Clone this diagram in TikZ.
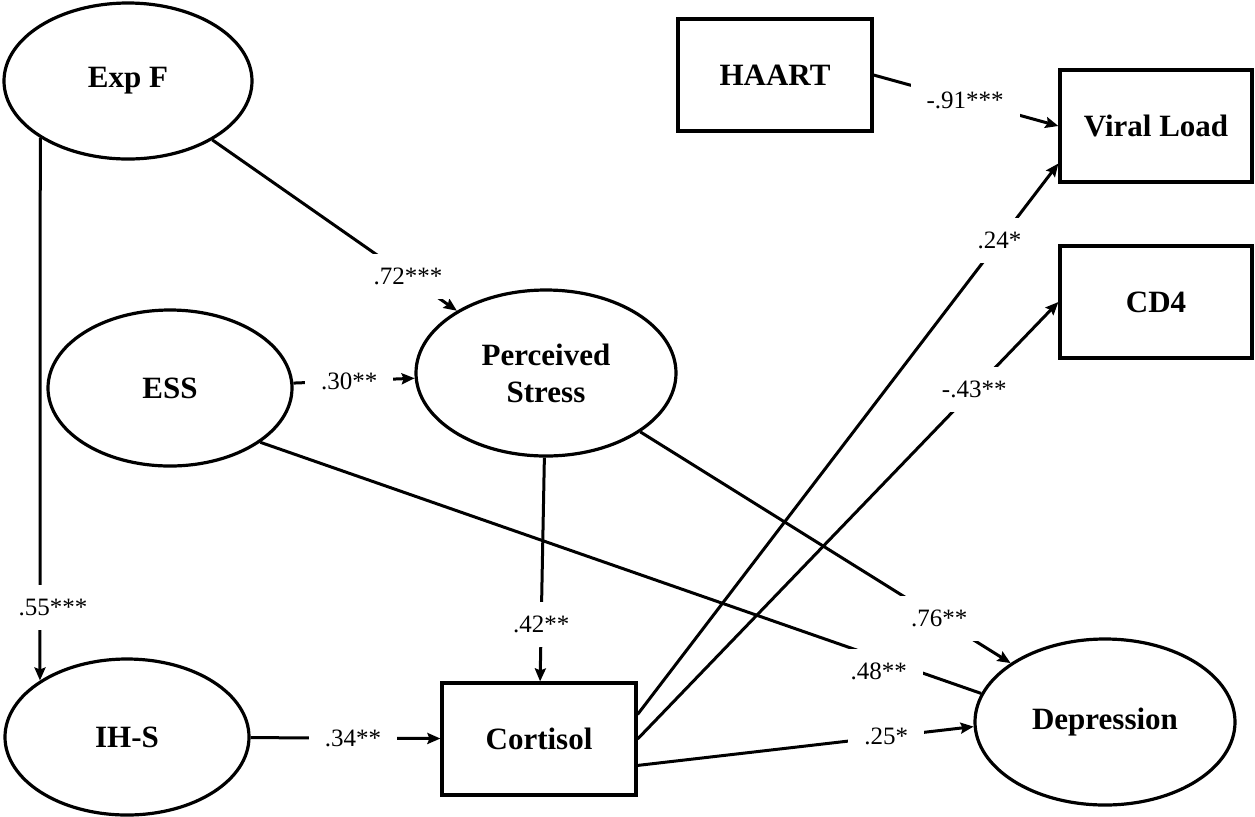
\documentclass[tikz,border=0pt]{standalone}
\usepackage{fontspec}
\setmainfont{Liberation Serif}
\usetikzlibrary{arrows.meta,shapes.geometric}

\begin{document}
\begin{tikzpicture}
[
x=0.5pt, y=-0.5pt,
latent/.style 2 args={draw,ellipse,line width=1.6pt,inner sep=0pt,minimum width=#1,minimum height=#2,align=center,font=\fontsize{15.5}{18.5}\selectfont\bfseries},
manifest/.style={draw,rectangle,line width=1.6pt,inner sep=0pt,minimum width=97pt,minimum height=56pt,font=\fontsize{15.5}{18.5}\selectfont\bfseries},
link/.style={line width=1.5pt,-{Stealth[length=6.5pt,width=5.5pt,inset=1pt]}},
coef/.style={fill=white,inner xsep=8pt,inner ysep=7pt,font=\fontsize{12.5}{14}\selectfont},
]
\useasboundingbox (0,0) rectangle (1255,816);

%Place the nodes
\node[latent={124pt}{78pt}] (expf) at (128,81) {Exp F};
\node[latent={122pt}{78pt}] (ess) at (170,388) {ESS};
\node[latent={130pt}{83pt}] (ps) at (546,373) {Perceived\\Stress};
\node[latent={122pt}{78pt}] (ihs) at (127,737) {IH-S};
\node[manifest] (cort) at (539,739) {Cortisol};
\node[latent={130pt}{83pt}] (dep) at (1105,722) {Depression};
\node[manifest] (haart) at (775,75) {HAART};
\node[manifest,minimum width=96pt] (vl) at (1156,126) {Viral Load};
\node[manifest,minimum width=96pt] (cd4) at (1156,302) {CD4};

%Draw the connections
\draw[link] (expf) -- node[coef,pos=0.8] {.72***} (ps);
\draw[link] (ess) -- node[coef,pos=0.46] {.30**} (ps);
\draw[link] (expf.213) -- node[coef,pos=0.866,xshift=6.5pt] {.55***} (ihs.147);
\draw[link] (ps) -- node[coef,pos=0.745] {.42**} (cort);
\draw[link] (ihs) -- node[coef,pos=0.54] {.34**} (cort);
\draw[link,-] (ess.-31) -- node[coef,pos=0.858,yshift=-7pt] {.48**} (dep.167);
\draw[link] (ps) -- node[coef,pos=0.807] {.76**} (dep);
\draw[link] (cort.-15) -- node[coef,pos=0.74] {.25*} (dep.182);
\draw[link] (cort.14) -- node[coef,pos=0.86] {.24*} (vl.201);
\draw[link] (cort.east) -- node[coef,pos=0.8] {-.43**} (cd4.west);
\draw[link] (haart.east) -- node[coef,pos=0.495] {-.91***} (vl.west);
\end{tikzpicture}
\end{document}
